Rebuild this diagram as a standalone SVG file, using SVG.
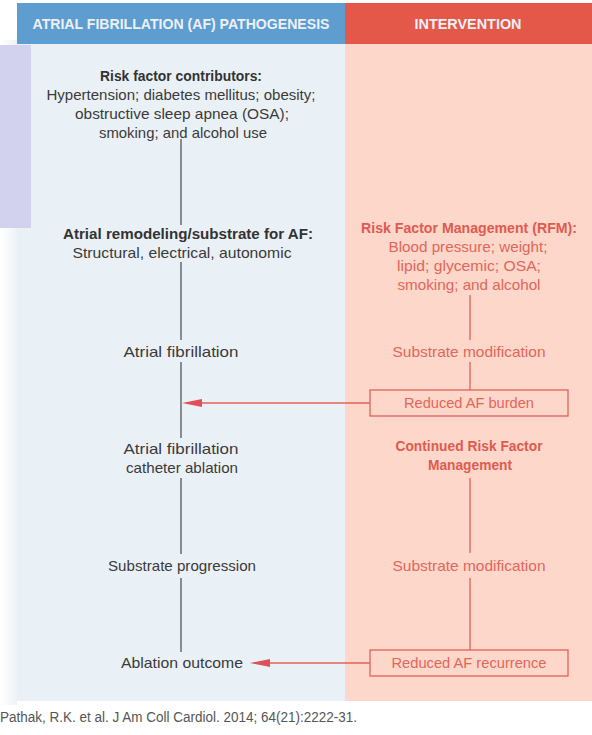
<svg xmlns="http://www.w3.org/2000/svg" width="592" height="735" viewBox="0 0 592 735">
<defs>
<linearGradient id="lg" x1="0" y1="0" x2="1" y2="0">
<stop offset="0" stop-color="#ffffff"/><stop offset="1" stop-color="#eef2f6"/>
</linearGradient>
<style>
.t{font-family:"Liberation Sans",Arial,sans-serif;font-size:14.5px;fill:#3a3a3a;text-anchor:middle}
.b{font-weight:bold;fill:#333}
.r{fill:#e2665a}
.rb{fill:#e05a50}
.h{font-family:"Liberation Sans",Arial,sans-serif;font-size:14px;font-weight:bold;fill:#eef0f6;text-anchor:middle}
.lk{stroke:#555;stroke-width:1.3;fill:none}
.lr{stroke:#e0625a;stroke-width:1.3;fill:none}
.box{fill:none;stroke:#e0625a;stroke-width:1.3}
.cite{font-family:"Liberation Sans",Arial,sans-serif;font-size:14px;fill:#555}
</style>
</defs>
<rect width="592" height="735" fill="#ffffff"/>
<rect x="0" y="40" width="17" height="665" fill="url(#lg)"/>
<rect x="17" y="44" width="328" height="657" fill="#eaf1f6"/>
<rect x="345" y="44" width="247" height="657" fill="#fcd7ca"/>
<rect x="17" y="3" width="328" height="41" fill="#5e9dcf"/>
<rect x="345" y="3" width="247" height="41" fill="#e4584a"/>
<rect x="0" y="45" width="31" height="183" fill="#d2d2ef"/>
<text class="h" x="181" y="29" textLength="297" lengthAdjust="spacingAndGlyphs">ATRIAL FIBRILLATION (AF) PATHOGENESIS</text>
<text class="h" x="468" y="29" textLength="107" lengthAdjust="spacingAndGlyphs">INTERVENTION</text>

<g id="connectors">
<line class="lk" x1="181" y1="139" x2="181" y2="225"/>
<line class="lk" x1="181" y1="262" x2="181" y2="340"/>
<line class="lk" x1="181" y1="362" x2="181" y2="438"/>
<line class="lk" x1="181" y1="478" x2="181" y2="554"/>
<line class="lk" x1="181" y1="578" x2="181" y2="652"/>
<line class="lr" x1="470" y1="295" x2="470" y2="340"/>
<line class="lr" x1="470" y1="362" x2="470" y2="390"/>
<line class="lr" x1="470" y1="478" x2="470" y2="553"/>
<line class="lr" x1="470" y1="578" x2="470" y2="650"/>
<line class="lr" x1="370" y1="403" x2="202" y2="403"/>
<path d="M182,403 L202,399 L202,407 Z" fill="#e0505a"/>
<line class="lr" x1="370" y1="663" x2="270" y2="663"/>
<path d="M250,663 L270,659 L270,667 Z" fill="#e0505a"/>
</g>

<g id="risk-factors">
<text class="t b" x="181" y="81" textLength="162" lengthAdjust="spacingAndGlyphs">Risk factor contributors:</text>
<text class="t" x="181" y="100" textLength="269" lengthAdjust="spacingAndGlyphs">Hypertension; diabetes mellitus; obesity;</text>
<text class="t" x="182" y="119" textLength="214" lengthAdjust="spacingAndGlyphs">obstructive sleep apnea (OSA);</text>
<text class="t" x="183" y="138" textLength="168" lengthAdjust="spacingAndGlyphs">smoking; and alcohol use</text>
</g>
<g id="remodeling">
<text class="t b" x="188" y="239" textLength="250" lengthAdjust="spacingAndGlyphs">Atrial remodeling/substrate for AF:</text>
<text class="t" x="182" y="258" textLength="219" lengthAdjust="spacingAndGlyphs">Structural, electrical, autonomic</text>
</g>
<g id="af">
<text class="t" x="181" y="357" textLength="115" lengthAdjust="spacingAndGlyphs">Atrial fibrillation</text>
</g>
<g id="ablation">
<text class="t" x="181" y="454" textLength="115" lengthAdjust="spacingAndGlyphs">Atrial fibrillation</text>
<text class="t" x="182" y="473" textLength="112" lengthAdjust="spacingAndGlyphs">catheter ablation</text>
</g>
<g id="progression">
<text class="t" x="182" y="571" textLength="148" lengthAdjust="spacingAndGlyphs">Substrate progression</text>
</g>
<g id="outcome">
<text class="t" x="182" y="668" textLength="122" lengthAdjust="spacingAndGlyphs">Ablation outcome</text>
</g>

<g id="rfm">
<text class="t b rb" x="469" y="233" textLength="216" lengthAdjust="spacingAndGlyphs">Risk Factor Management (RFM):</text>
<text class="t r" x="468" y="252" textLength="159" lengthAdjust="spacingAndGlyphs">Blood pressure; weight;</text>
<text class="t r" x="469" y="271" textLength="144" lengthAdjust="spacingAndGlyphs">lipid; glycemic; OSA;</text>
<text class="t r" x="469" y="290" textLength="143" lengthAdjust="spacingAndGlyphs">smoking; and alcohol</text>
</g>
<g id="submod1">
<text class="t r" x="469" y="357" textLength="153" lengthAdjust="spacingAndGlyphs">Substrate modification</text>
</g>
<g id="reduced-burden">
<rect class="box" x="370" y="390" width="198" height="26"/>
<text class="t r" x="469" y="408" textLength="130" lengthAdjust="spacingAndGlyphs">Reduced AF burden</text>
</g>
<g id="continued-rfm">
<text class="t b rb" x="469" y="451" textLength="147" lengthAdjust="spacingAndGlyphs">Continued Risk Factor</text>
<text class="t b rb" x="470" y="470" textLength="84" lengthAdjust="spacingAndGlyphs">Management</text>
</g>
<g id="submod2">
<text class="t r" x="469" y="571" textLength="153" lengthAdjust="spacingAndGlyphs">Substrate modification</text>
</g>
<g id="reduced-recurrence">
<rect class="box" x="370" y="650" width="198" height="26"/>
<text class="t r" x="469" y="668" textLength="155" lengthAdjust="spacingAndGlyphs">Reduced AF recurrence</text>
</g>
<text class="cite" x="0" y="722" textLength="357" lengthAdjust="spacingAndGlyphs">Pathak, R.K. et al. J Am Coll Cardiol. 2014; 64(21):2222-31.</text>
</svg>
